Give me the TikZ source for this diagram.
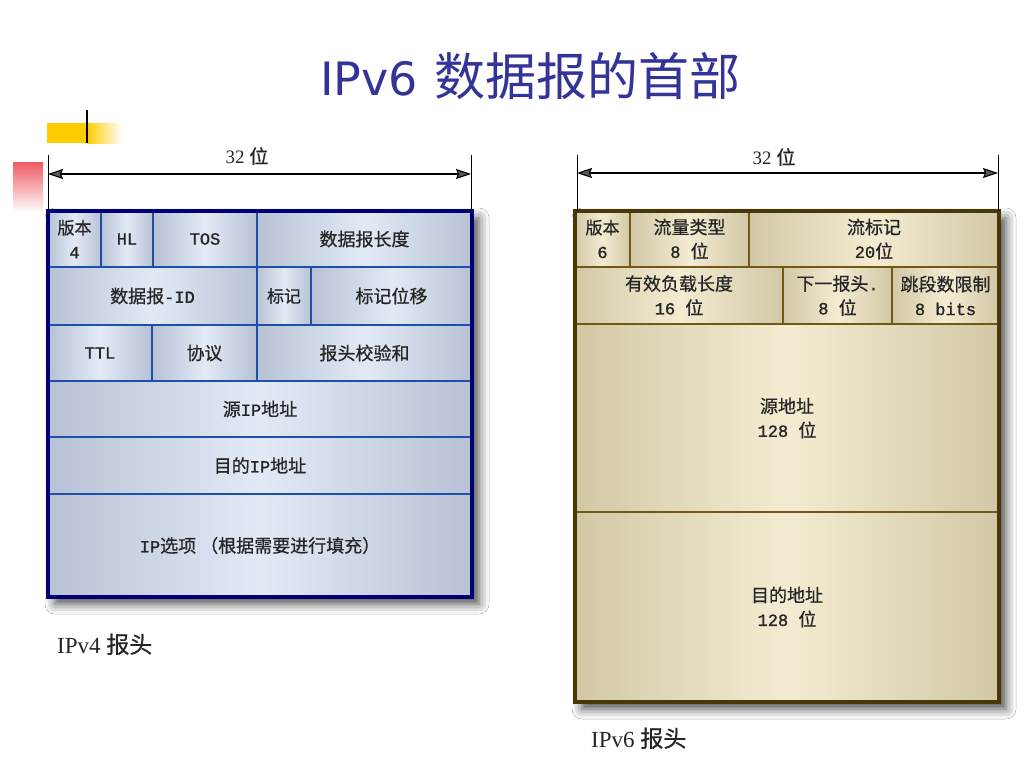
\documentclass[tikz,border=0pt]{standalone}
\usepackage{fontspec}
\setmainfont{Liberation Serif}
\newfontfamily\zhfont{Noto Sans CJK SC}
\newfontfamily\zhcell{Noto Sans CJK SC}[FakeBold=0.7]
\newfontfamily\cellmono{Liberation Mono}[FakeBold=1.2]
\newfontfamily\ttlfont{DejaVu Sans}
\newcommand\zh[1]{{\zhcell #1}}
\newcommand\zhc[1]{{\zhcell\fontsize{18}{24}\selectfont #1}}
\usetikzlibrary{arrows.meta,shadows.blur}
\definecolor{ttlblue}{RGB}{51,51,153}
\definecolor{txtgray}{RGB}{38,38,38}
\definecolor{vedge}{RGB}{184,194,213}
\definecolor{vmid}{RGB}{226,234,246}
\definecolor{vline}{RGB}{30,80,170}
\definecolor{vouter}{RGB}{0,0,115}
\definecolor{sedge}{RGB}{210,200,166}
\definecolor{smid}{RGB}{244,236,210}
\definecolor{sline}{RGB}{115,88,20}
\definecolor{souter}{RGB}{72,56,8}
\definecolor{goldbar}{RGB}{255,204,0}
\definecolor{redbar}{RGB}{240,90,100}
\newcommand\mkcell[7]{%
  \path[#1] (#2,#3) rectangle (#4,#5);
  \node[celltext] (#6) at ({(#2+#4)/2},{(#3+#5)/2}) {#7};}
\begin{document}
\begin{tikzpicture}[x=1pt,y=-1pt,
  celltext/.style={align=center,inner sep=0pt,text=txtgray,
    font=\cellmono\fontsize{17}{24}\selectfont},
  vcell/.style={left color=vedge,right color=vedge,middle color=vmid,
    draw=vline,line width=2pt},
  scell/.style={left color=sedge,right color=sedge,middle color=smid,
    draw=sline,line width=2.2pt},
  frameshadow/.style={fill=white,blur shadow={shadow xshift=7pt,
    shadow yshift=-7pt,shadow blur radius=10pt,shadow opacity=70}},
  dimline/.style={line width=1.1pt,{Stealth[length=15pt,width=10pt,inset=2pt]}-{Stealth[length=15pt,width=10pt,inset=2pt]}},
  extline/.style={line width=1pt},
  dimtext/.style={inner sep=0pt,text=txtgray,font=\fontsize{19}{22}\selectfont},
  labtext/.style={inner sep=0pt,anchor=base west,text=txtgray,font=\fontsize{23}{26}\selectfont}
]
\useasboundingbox (0,0) rectangle (1024,768);
\fill[white] (0,0) rectangle (1024,768);

% decorations
\fill[goldbar] (47,123) rectangle (87,143);
\shade[left color=goldbar,right color=white] (87,123) rectangle (122,143);
\draw[line width=2pt] (87,110) -- (87,143);
\shade[top color=redbar,bottom color=white] (13,162) rectangle (43,212);

% title
\node[inner sep=0pt,anchor=base west,text=ttlblue] (title) at (320,95)
  {{\ttlfont\fontsize{46}{50}\selectfont IPv6}\hspace{16pt}{\zhfont\fontsize{51}{54}\selectfont 数据报的首部}};

% ===== IPv4 =====
\path[frameshadow] (48,211) rectangle (472,597);
\mkcell{vcell}{48}{211}{101}{267}{v4ver}{\zh{版本}\\4}
\mkcell{vcell}{101}{211}{153}{267}{v4hl}{HL}
\mkcell{vcell}{153}{211}{257}{267}{v4tos}{TOS}
\mkcell{vcell}{257}{211}{472}{267}{v4len}{\zhc{数据报长度}}
\mkcell{vcell}{48}{267}{257}{325}{v4id}{\zhc{数据报}-ID}
\mkcell{vcell}{257}{267}{311}{325}{v4flag}{\zh{标记}}
\mkcell{vcell}{311}{267}{472}{325}{v4off}{\zhc{标记位移}}
\mkcell{vcell}{48}{325}{152}{381}{v4ttl}{TTL}
\mkcell{vcell}{152}{325}{257}{381}{v4proto}{\zhc{协议}}
\mkcell{vcell}{257}{325}{472}{381}{v4chk}{\zhc{报头校验和}}
\mkcell{vcell}{48}{381}{472}{437}{v4src}{\zhc{源}IP\zhc{地址}}
\mkcell{vcell}{48}{437}{472}{494}{v4dst}{\zhc{目的}IP\zhc{地址}}
\mkcell{vcell}{48}{494}{472}{597}{v4opt}{IP\zhc{选项 （根据需要进行填充）}}
\draw[vouter,line width=3.5pt] (48,211) rectangle (472,597);

\coordinate (v4lt) at (48,155);
\coordinate (v4lb) at (48,211);
\coordinate (v4rt) at (471,155);
\coordinate (v4rb) at (471,211);
\coordinate (v4al) at (48,174);
\coordinate (v4ar) at (471,174);
\draw[extline] (v4lt) -- (v4lb);
\draw[extline] (v4rt) -- (v4rb);
\draw[dimline] (v4al) -- (v4ar);
\node[dimtext] (v4dim) at (247,156) {32 \zh{位}};
\node[labtext] (v4lab) at (57,653) {IPv4 \zh{报头}};

% ===== IPv6 =====
\path[frameshadow] (575,211) rectangle (999,702);
\fill[white] (858,731) rectangle (1024,768);
\mkcell{scell}{575}{211}{630}{267}{v6ver}{\zh{版本}\\6}
\mkcell{scell}{630}{211}{749}{267}{v6tc}{\zhc{流量类型}\\8 \zhc{位}}
\mkcell{scell}{749}{211}{999}{267}{v6fl}{\zhc{流标记}\\20\zhc{位}}
\mkcell{scell}{575}{267}{783}{324}{v6len}{\zhc{有效负载长度}\\16 \zhc{位}}
\mkcell{scell}{783}{267}{892}{324}{v6nh}{\zhc{下一报头}.\\8 \zhc{位}}
\mkcell{scell}{892}{267}{999}{324}{v6hop}{\zhc{跳段数限制}\\8 bits}
\mkcell{scell}{575}{324}{999}{512}{v6src}{\zhc{源地址}\\128 \zhc{位}}
\mkcell{scell}{575}{512}{999}{702}{v6dst}{\zhc{目的地址}\\128 \zhc{位}}
\draw[souter,line width=3.5pt] (575,211) rectangle (999,702);

\coordinate (v6lt) at (577,155);
\coordinate (v6lb) at (577,211);
\coordinate (v6rt) at (998,155);
\coordinate (v6rb) at (998,211);
\coordinate (v6al) at (577,173);
\coordinate (v6ar) at (998,173);
\draw[extline] (v6lt) -- (v6lb);
\draw[extline] (v6rt) -- (v6rb);
\draw[dimline] (v6al) -- (v6ar);
\node[dimtext] (v6dim) at (774,157) {32 \zh{位}};
\node[labtext] (v6lab) at (591,747) {IPv6 \zh{报头}};
\end{tikzpicture}
\end{document}
